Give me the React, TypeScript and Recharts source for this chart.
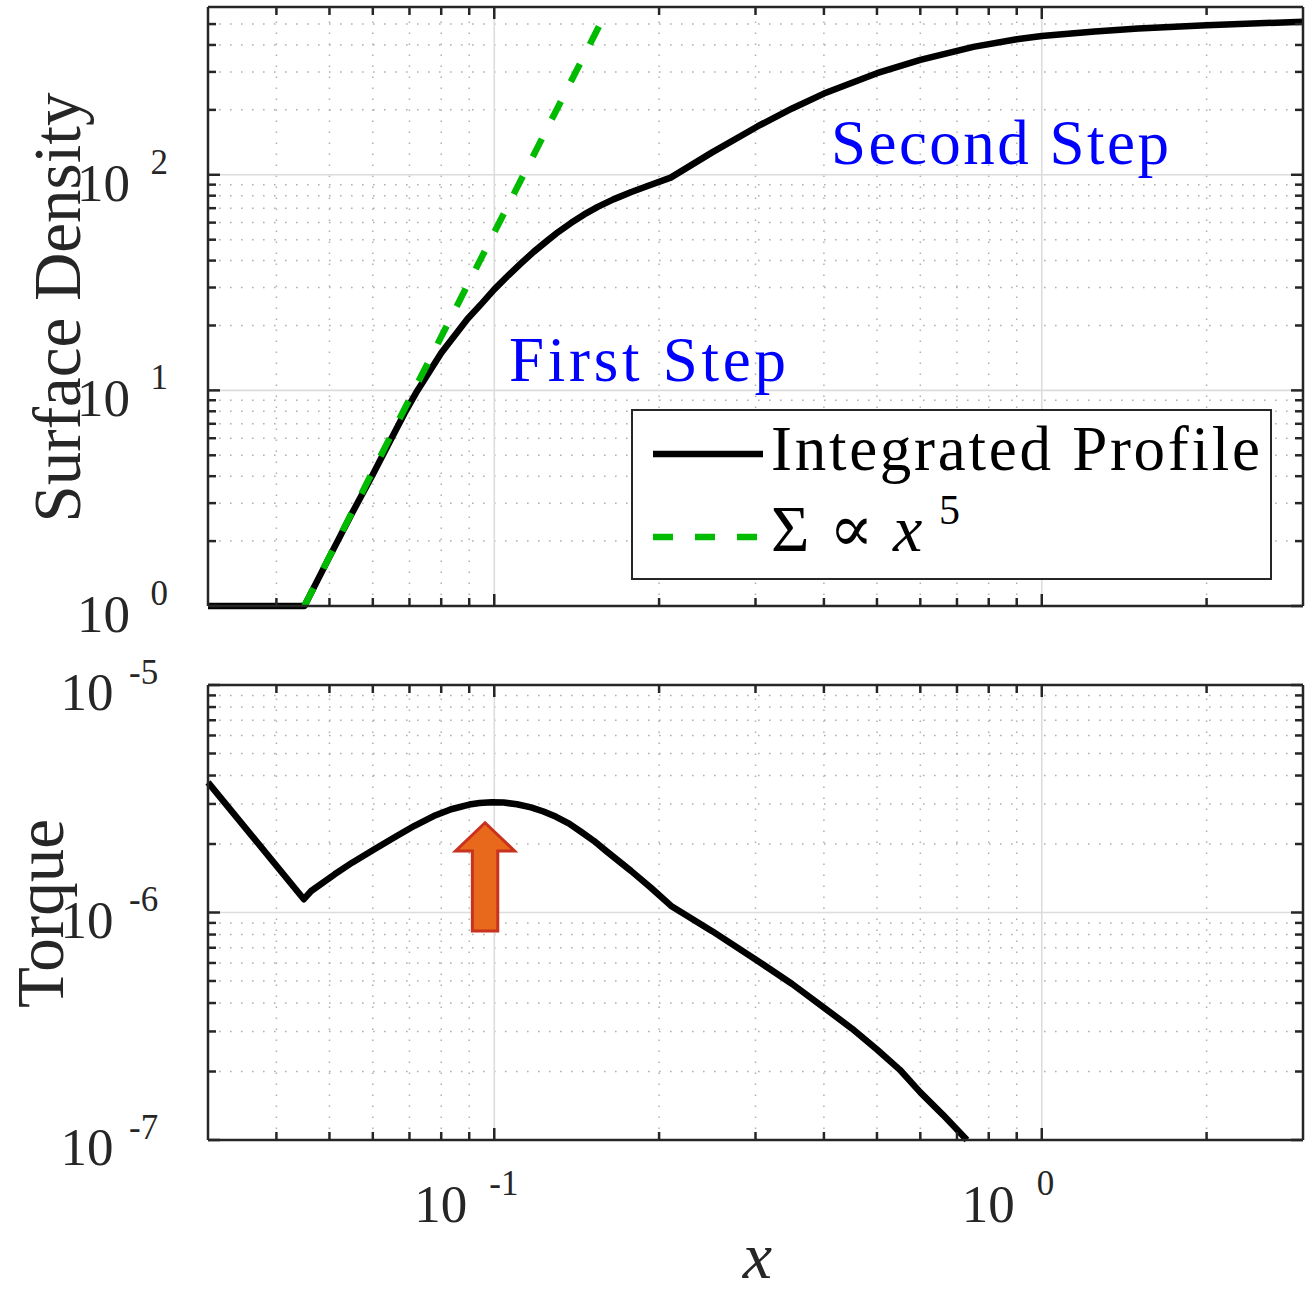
import React from 'react';
import { LineChart, Line, XAxis, YAxis, ReferenceLine, ReferenceDot, Legend } from 'recharts';

// ---------------- data ----------------
const xTicks = [0.04, 0.05, 0.06, 0.07, 0.08, 0.09, 0.1, 0.2, 0.3, 0.4, 0.5, 0.6, 0.7, 0.8, 0.9, 1, 2];
const sigmaTicks = [1, 2, 3, 4, 5, 6, 7, 8, 9, 10, 20, 30, 40, 50, 60, 70, 80, 90, 100, 200, 300, 400, 500];
const torqueTicks = [
  1e-7, 2e-7, 3e-7, 4e-7, 5e-7, 6e-7, 7e-7, 8e-7, 9e-7,
  1e-6, 2e-6, 3e-6, 4e-6, 5e-6, 6e-6, 7e-6, 8e-6, 9e-6, 1e-5,
];

const profileX = [0.03, 0.045, 0.05, 0.055, 0.06, 0.064, 0.0685, 0.0724, 0.08, 0.0894, 0.095, 0.1, 0.106, 0.112, 0.118, 0.125, 0.131, 0.138, 0.146, 0.1545, 0.165, 0.178, 0.19, 0.21, 0.25, 0.303, 0.35, 0.4, 0.5, 0.6, 0.75, 0.9, 1, 1.25, 1.5, 2, 3];
const profileY = [1, 1, 1.69, 2.7, 4.07, 5.6, 7.8, 10.0, 14.9, 21.5, 25.4, 29.4, 34.1, 38.9, 43.9, 49.5, 54.4, 59.7, 65.5, 71.0, 76.9, 83.2, 88.5, 97, 127, 168, 203, 238, 296, 341, 392, 425, 440, 462, 477, 494, 513];

const powerX = [0.045, 0.07, 0.1, 0.1588];
const powerY = [1, 9.1, 54, 545];

const torqueX = [0.03, 0.0449, 0.0463, 0.0511, 0.055, 0.0604, 0.066, 0.0715, 0.0775, 0.0834, 0.09, 0.094, 0.099, 0.104, 0.11, 0.1167, 0.123, 0.1297, 0.137, 0.144, 0.152, 0.16, 0.1777, 0.193, 0.2104, 0.25, 0.303, 0.35, 0.4, 0.45, 0.5, 0.55, 0.6, 0.66, 0.73];
const torqueY = [3.73e-6, 1.144e-6, 1.243e-6, 1.472e-6, 1.656e-6, 1.897e-6, 2.153e-6, 2.405e-6, 2.655e-6, 2.844e-6, 2.982e-6, 3.028e-6, 3.053e-6, 3.043e-6, 2.992e-6, 2.897e-6, 2.78e-6, 2.633e-6, 2.46e-6, 2.265e-6, 2.065e-6, 1.866e-6, 1.524e-6, 1.288e-6, 1.069e-6, 8.28e-7, 6.12e-7, 4.85e-7, 3.82e-7, 3.09e-7, 2.5e-7, 2.04e-7, 1.62e-7, 1.29e-7, 1e-7];

const firstStepAt = { x: 0.1064, y: 11 };
const secondStepAt = { x: 0.412, y: 112 };
const arrowTipAt = { x: 0.0962, y: 2.48e-6 };

// ---------------- styles ----------------
const FONT = '"Liberation Serif", "DejaVu Serif", serif';
const INK = '#262626';
const GREEN = '#00bb00';
const MAJOR_GRID = '#dcdcdc';
const MINOR_GRID = '#b0b0b0';
const LINE_W = 6.5;

const isMajor = (v: number) => {
  const l = Math.log10(v);
  return Math.abs(l - Math.round(l)) < 1e-6;
};
const expOf = (v: number) => String(Math.round(Math.log10(v)));

const profileData = profileX.map((x, i) => ({ x, y: profileY[i] }));
const powerData = powerX.map((x, i) => ({ x, y: powerY[i] }));
const torqueData = torqueX.map((x, i) => ({ x, y: torqueY[i] }));

const xMajorGrid = xTicks.filter(isMajor);
const xMinorGrid = xTicks.filter((v) => !isMajor(v));
const sigmaMajorGrid = sigmaTicks.filter((v) => isMajor(v) && v > 1);
const sigmaMinorGrid = sigmaTicks.filter((v) => !isMajor(v));
const torqueMajorGrid = torqueTicks.filter((v) => isMajor(v) && v > 1e-7 && v < 1e-5);
const torqueMinorGrid = torqueTicks.filter((v) => !isMajor(v));

// ---------------- tick renderers ----------------
const makeXTick = (dir: number, labels: boolean) => (props: any) => {
  const { x, y, payload } = props;
  const v = payload.value;
  const major = isMajor(v);
  const len = major ? 12 : 8;
  return (
    <g>
      <line x1={x} y1={y} x2={x} y2={y + dir * len} stroke={INK} strokeWidth={2.5} />
      {labels && major && (
        <g fontFamily={FONT} fill={INK}>
          <text x={x - 27} y={y + 82} fontSize={53} textAnchor="end">10</text>
          <text x={x - 5} y={y + 55} fontSize={35} textAnchor="start">{expOf(v)}</text>
        </g>
      )}
    </g>
  );
};

const makeYTick = (dir: number, lab: null | { baseEnd: number; expStart: number; baseDy: number; expDy: number }) => (props: any) => {
  const { x, y, payload } = props;
  const v = payload.value;
  const major = isMajor(v);
  const len = major ? 12 : 8;
  return (
    <g>
      <line x1={x} y1={y} x2={x + dir * len} y2={y} stroke={INK} strokeWidth={2.5} />
      {lab && major && (
        <g fontFamily={FONT} fill={INK}>
          <text x={x + lab.baseEnd} y={y + lab.baseDy} fontSize={53} textAnchor="end">10</text>
          <text x={x + lab.expStart} y={y + lab.expDy} fontSize={35} textAnchor="start">{expOf(v)}</text>
        </g>
      )}
    </g>
  );
};

const yTitle = (text: string, baselineX: number) => (props: any) => {
  const vb = props.viewBox || { x: 207, y: 0, width: 1, height: 0 };
  const cx = baselineX;
  const cy = vb.y + vb.height / 2 + 1;
  return (
    <text x={cx} y={cy} transform={`rotate(-90 ${cx} ${cy})`} textAnchor="middle" fontFamily={FONT} fontSize={67} fill={INK}>
      {text}
    </text>
  );
};

const xTitle = (props: any) => {
  const vb = props.viewBox || { x: 208, y: 495, width: 1095, height: 1 };
  return (
    <text x={vb.x + vb.width / 2 + 2} y={vb.y + 138} textAnchor="middle" fontFamily={FONT} fontSize={66} fontStyle="italic" fill={INK}>
      x
    </text>
  );
};

const stepLabel = (text: string, len: number) => (p: any) => (
  <text x={p.cx} y={p.cy} fill="#0000ff" fontFamily={FONT} fontSize={63} textLength={len} lengthAdjust="spacing">
    {text}
  </text>
);

const arrowShape = (p: any) => {
  const { cx, cy } = p;
  const pts = [
    [0, 0], [29.5, 28.2], [12.7, 28.2], [12.7, 108.3], [-12.7, 108.3], [-12.7, 28.2], [-29.5, 28.2],
  ].map(([dx, dy]) => `${cx + dx},${cy + dy}`).join(' ');
  return <polygon points={pts} fill="#e8691c" stroke="#c8321e" strokeWidth={3} strokeLinejoin="miter" />;
};

const LegendBox = () => (
  <svg width={642} height={172} style={{ display: 'block' }}>
    <rect x={1} y={1} width={639} height={169} fill="#ffffff" stroke={INK} strokeWidth={2} />
    <line x1={22} y1={45} x2={132} y2={45} stroke="#000000" strokeWidth={LINE_W} />
    <text x={140} y={61} fontFamily={FONT} fontSize={63} fill="#000" textLength={489} lengthAdjust="spacing">
      Integrated Profile
    </text>
    <line x1={22} y1={128} x2={132} y2={128} stroke={GREEN} strokeWidth={LINE_W} strokeDasharray="20 22" />
    <text y={142} fontFamily={FONT} fontSize={66} fill="#000">
      <tspan x={140}>Σ</tspan>
      <tspan x={198}>∝</tspan>
      <tspan x={262} fontStyle="italic">x</tspan>
      <tspan x={308} dy={-27} fontSize={42}>5</tspan>
    </text>
  </svg>
);

const minorLine = { stroke: MINOR_GRID, strokeWidth: 1.5, strokeDasharray: '1.6 9.4' };
const majorLine = { stroke: MAJOR_GRID, strokeWidth: 1.6 };
const axisLineStyle = { stroke: INK, strokeWidth: 2.5 };

export default function App() {
  return (
    <div style={{ position: 'absolute', left: 0, top: 0, width: 1312, height: 1293, background: '#ffffff' }}>
      <div style={{ position: 'absolute', left: 0, top: 0 }}>
        <LineChart width={1312} height={645} margin={{ top: 6, right: 8, bottom: 38, left: 207 }}>
          <XAxis
            dataKey="x" type="number" scale="log" domain={[0.03, 3]} ticks={xTicks} interval={0}
            height={1} tickSize={0} tickMargin={0} tickLine={false}
            axisLine={axisLineStyle} tick={makeXTick(-1, false)}
          />
          <XAxis
            xAxisId="top" orientation="top" dataKey="x" type="number" scale="log" domain={[0.03, 3]} allowDataOverflow
            ticks={xTicks} interval={0} height={1} tickSize={0} tickMargin={0} tickLine={false}
            axisLine={axisLineStyle} tick={makeXTick(1, false)}
          />
          <YAxis
            dataKey="y" type="number" scale="log" domain={[1, 600]} ticks={sigmaTicks} interval={0}
            width={1} tickSize={0} tickMargin={0} tickLine={false}
            axisLine={axisLineStyle}
            tick={makeYTick(1, { baseEnd: -78, expStart: -57.5, baseDy: 26, expDy: -1 })}
            label={yTitle('Surface Density', 80)}
          />
          <YAxis
            yAxisId="right" orientation="right" dataKey="y" type="number" scale="log" domain={[1, 600]} allowDataOverflow
            ticks={sigmaTicks} interval={0} width={1} tickSize={0} tickMargin={0} tickLine={false}
            axisLine={axisLineStyle} tick={makeYTick(-1, null)}
          />
          {xMinorGrid.map((v) => <ReferenceLine key={'vx' + v} x={v} {...minorLine} />)}
          {sigmaMinorGrid.map((v) => <ReferenceLine key={'hy' + v} y={v} {...minorLine} />)}
          {xMajorGrid.map((v) => <ReferenceLine key={'VX' + v} x={v} {...majorLine} />)}
          {sigmaMajorGrid.map((v) => <ReferenceLine key={'HY' + v} y={v} {...majorLine} />)}
          <Line data={profileData} dataKey="y" name="Integrated Profile" type="linear" stroke="#000000" strokeWidth={LINE_W} strokeLinejoin="round" dot={false} isAnimationActive={false} />
          <Line data={powerData} dataKey="y" name="Σ ∝ x^5" type="linear" stroke={GREEN} strokeWidth={LINE_W} strokeDasharray="20 22" dot={false} isAnimationActive={false} />
          <ReferenceDot x={firstStepAt.x} y={firstStepAt.y} shape={stepLabel('First Step', 277)} />
          <ReferenceDot x={secondStepAt.x} y={secondStepAt.y} shape={stepLabel('Second Step', 338)} />
          <Legend
            layout="horizontal" verticalAlign="middle" align="center"
            content={() => <LegendBox />}
            wrapperStyle={{ position: 'absolute', left: 631, top: 409, width: 642, height: 172 }}
          />
        </LineChart>
      </div>
      <div style={{ position: 'absolute', left: 0, top: 645 }}>
        <LineChart width={1312} height={648} margin={{ top: 39, right: 8, bottom: 152, left: 207 }}>
          <XAxis
            dataKey="x" type="number" scale="log" domain={[0.03, 3]} ticks={xTicks} interval={0}
            height={1} tickSize={0} tickMargin={0} tickLine={false}
            axisLine={axisLineStyle} tick={makeXTick(-1, true)}
            label={xTitle}
          />
          <XAxis
            xAxisId="top" orientation="top" dataKey="x" type="number" scale="log" domain={[0.03, 3]} allowDataOverflow
            ticks={xTicks} interval={0} height={1} tickSize={0} tickMargin={0} tickLine={false}
            axisLine={axisLineStyle} tick={makeXTick(1, false)}
          />
          <YAxis
            dataKey="y" type="number" scale="log" domain={[1e-7, 1e-5]} ticks={torqueTicks} interval={0}
            width={1} tickSize={0} tickMargin={0} tickLine={false}
            axisLine={axisLineStyle}
            tick={makeYTick(1, { baseEnd: -94.5, expStart: -79, baseDy: 25, expDy: -1.5 })}
            label={yTitle('Torque', 63)}
          />
          <YAxis
            yAxisId="right" orientation="right" dataKey="y" type="number" scale="log" domain={[1e-7, 1e-5]} allowDataOverflow
            ticks={torqueTicks} interval={0} width={1} tickSize={0} tickMargin={0} tickLine={false}
            axisLine={axisLineStyle} tick={makeYTick(-1, null)}
          />
          {xMinorGrid.map((v) => <ReferenceLine key={'vx' + v} x={v} {...minorLine} />)}
          {torqueMinorGrid.map((v) => <ReferenceLine key={'hy' + v} y={v} {...minorLine} />)}
          {xMajorGrid.map((v) => <ReferenceLine key={'VX' + v} x={v} {...majorLine} />)}
          {torqueMajorGrid.map((v) => <ReferenceLine key={'HY' + v} y={v} {...majorLine} />)}
          <Line data={torqueData} dataKey="y" name="Torque" type="linear" stroke="#000000" strokeWidth={LINE_W} strokeLinejoin="round" dot={false} isAnimationActive={false} />
          <ReferenceDot x={arrowTipAt.x} y={arrowTipAt.y} shape={arrowShape} />
        </LineChart>
      </div>
    </div>
  );
}
